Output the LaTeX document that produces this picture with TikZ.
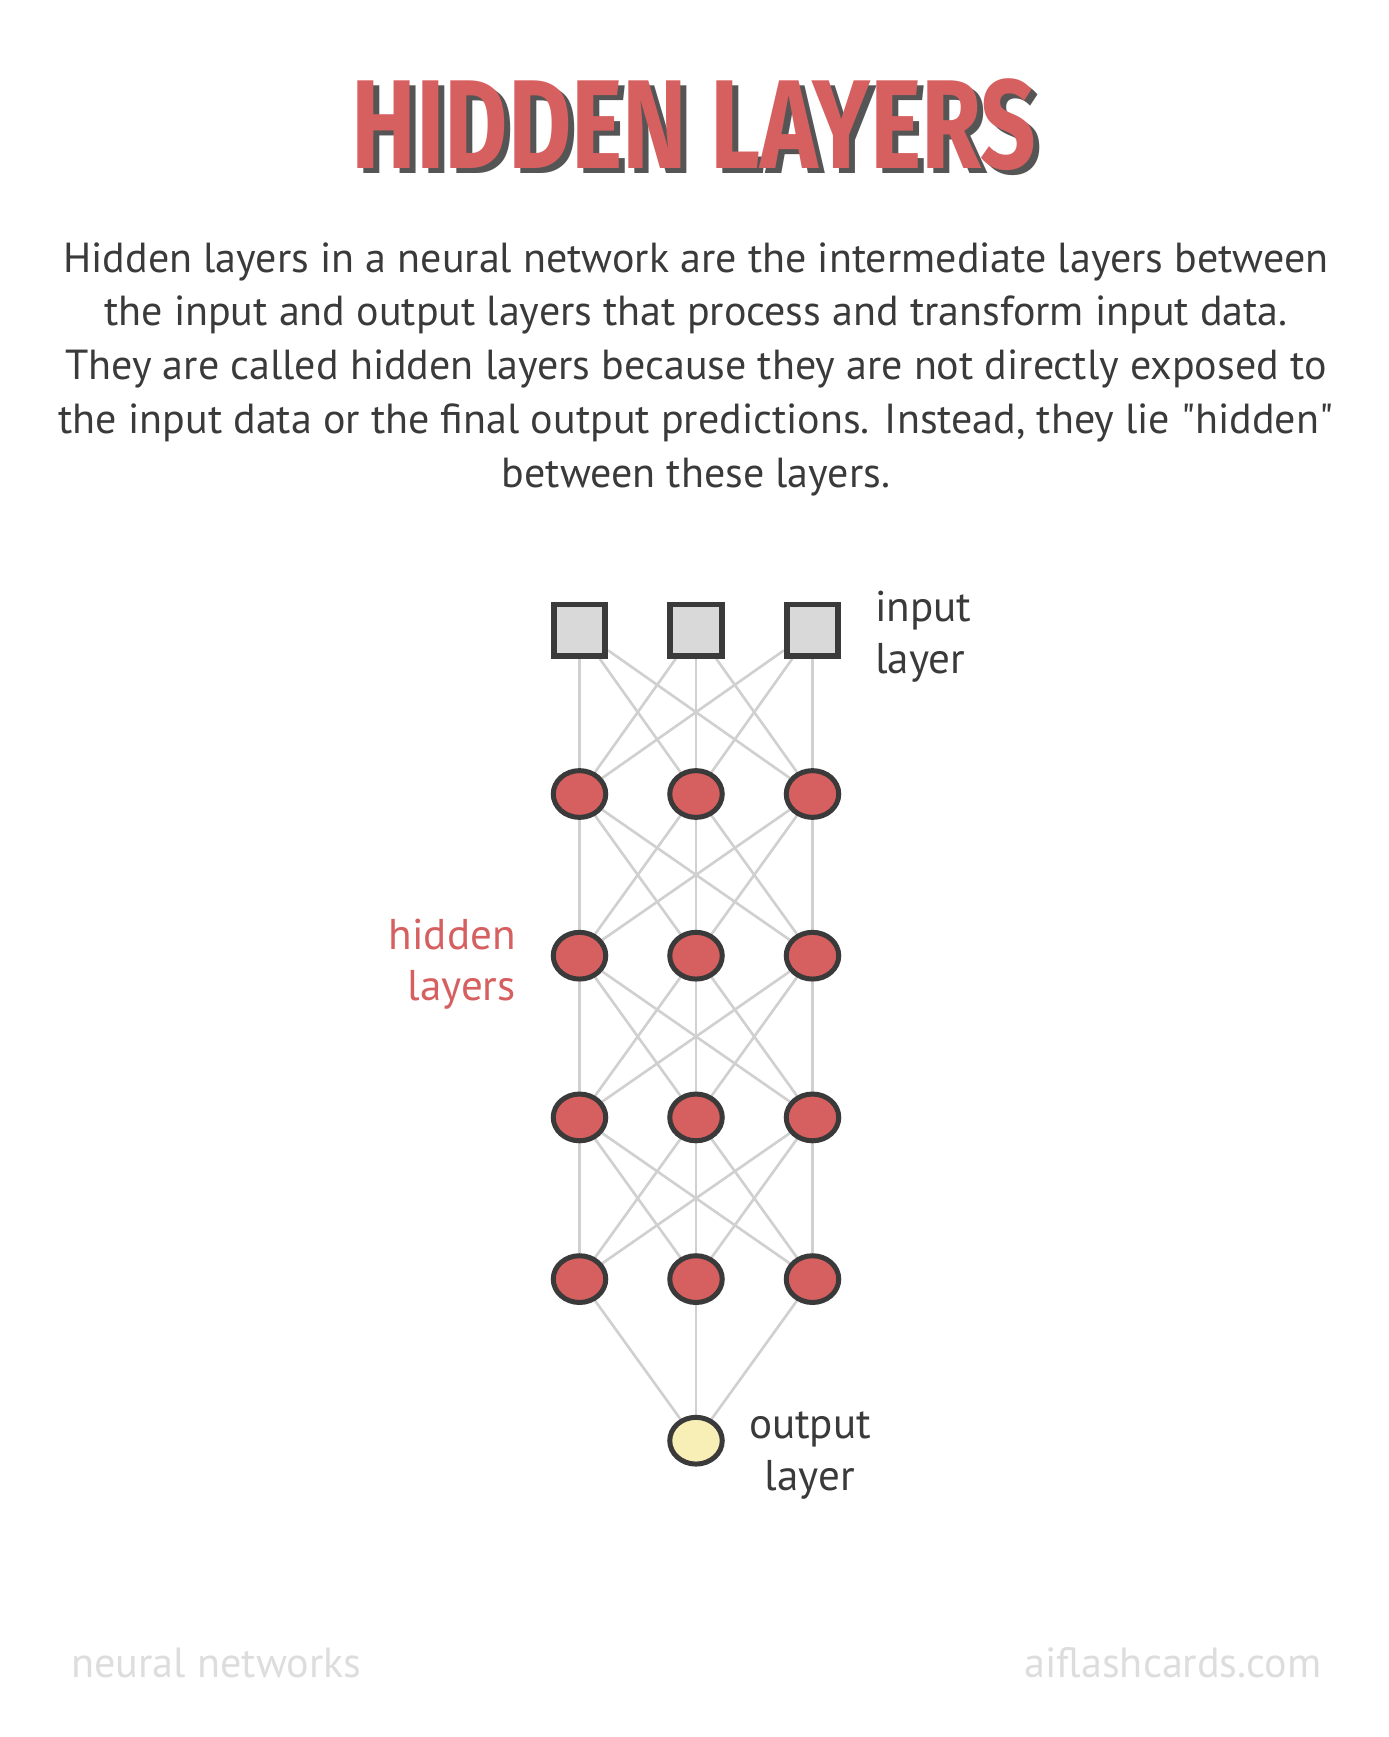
\documentclass[tikz,border=0pt]{standalone}
\usepackage{fontspec}
\setmainfont{PT Sans}
\newfontfamily\titlefont[FakeStretch=0.77]{Fira Sans}
\usetikzlibrary{shapes.geometric,backgrounds}

\definecolor{hlred}{HTML}{D65F5F}
\definecolor{ink}{HTML}{3A3A3A}
\definecolor{shade}{HTML}{555555}
\definecolor{boxgray}{HTML}{D9D9D9}
\definecolor{outyellow}{HTML}{F8EFB6}
\definecolor{wiregray}{HTML}{D0D0D0}
\definecolor{footgray}{HTML}{DDDDDD}

\tikzset{
	neuron/.style={draw=ink, line width=2.85pt, fill=hlred, ellipse, minimum width=10.5mm, minimum height=9.35mm, inner sep=0pt},
	outneuron/.style={neuron, fill=outyellow},
	inbox/.style={draw=ink, line width=3.2pt, fill=boxgray, rectangle, minimum size=10.3mm, inner sep=0pt},
	wire/.style={draw=wiregray, line width=1.5pt},
	para/.style={anchor=base, inner sep=0pt, text=ink, font=\fontsize{23.9}{28}\selectfont},
	lbl/.style={inner sep=0pt, text=ink, font=\fontsize{24.5}{29}\selectfont},
	headline/.style={anchor=base, inner sep=0pt, font=\titlefont\bfseries\fontsize{72}{80}\selectfont},
	foot/.style={anchor=base, inner sep=0pt, text=footgray, font=\fontsize{24}{28}\selectfont}
}

\begin{document}
\begin{tikzpicture}[x=0.2mm, y=-0.2mm]
	\useasboundingbox (0,0) rectangle (1389,1737);
	
	% title with offset shadow
	\node[headline, text=shade] (titleshadow) at (700,173) {HIDDEN LAYERS};
	\node[headline, text=hlred] (title) at (694,168) {HIDDEN LAYERS};
	
	% description
	\node[para] (line1) at (696,272) {Hidden layers in a neural network are the intermediate layers between};
	\node[para] (line2) at (696,325.8) {the input and output layers that process and transform input data.};
	\node[para] (line3) at (696,379.6) {They are called hidden layers because they are not directly exposed to};
	\node[para] (line4) at (696,433.4) {the input data or the final output predictions. Instead, they lie \textquotedbl hidden\textquotedbl};
	\node[para] (line5) at (696,487.2) {between these layers.};
	
	% network
	\foreach \c in {1,2,3}
		\node[inbox] (in\c) at (463+116.5*\c, 630.3) {};
	\foreach \l in {1,...,4}
		\foreach \c in {1,2,3}
			\node[neuron] (h\l\c) at (463+116.5*\c, 632.3+161.7*\l) {};
	\node[outneuron] (out) at (696,1440.7) {};
	
	\begin{scope}[on background layer]
		\foreach \a in {1,2,3}
			\foreach \b in {1,2,3}
				\draw[wire] (in\a) -- (h1\b);
		\foreach \l/\m in {1/2,2/3,3/4}
			\foreach \a in {1,2,3}
				\foreach \b in {1,2,3}
					\draw[wire] (h\l\a) -- (h\m\b);
		\foreach \a in {1,2,3}
			\draw[wire] (h4\a) -- (out);
	\end{scope}
	
	% labels
	\node[lbl, anchor=base west] (inlabel) at (875,621.7) {input};
	\node[lbl, anchor=base west] (inlabel2) at (875,673) {layer};
	\node[lbl, anchor=base east, text=hlred] (hidlabel) at (516,949) {hidden};
	\node[lbl, anchor=base east, text=hlred] (hidlabel2) at (516,1000) {layers};
	\node[lbl, anchor=base] (outlabel) at (810,1438) {output};
	\node[lbl, anchor=base] (outlabel2) at (810,1490) {layer};
	
	% footer
	\node[foot, anchor=base west] (topic) at (71,1677) {neural networks};
	\node[foot, anchor=base east] (site) at (1322,1677) {aiflashcards.com};
	
\end{tikzpicture}
\end{document}
